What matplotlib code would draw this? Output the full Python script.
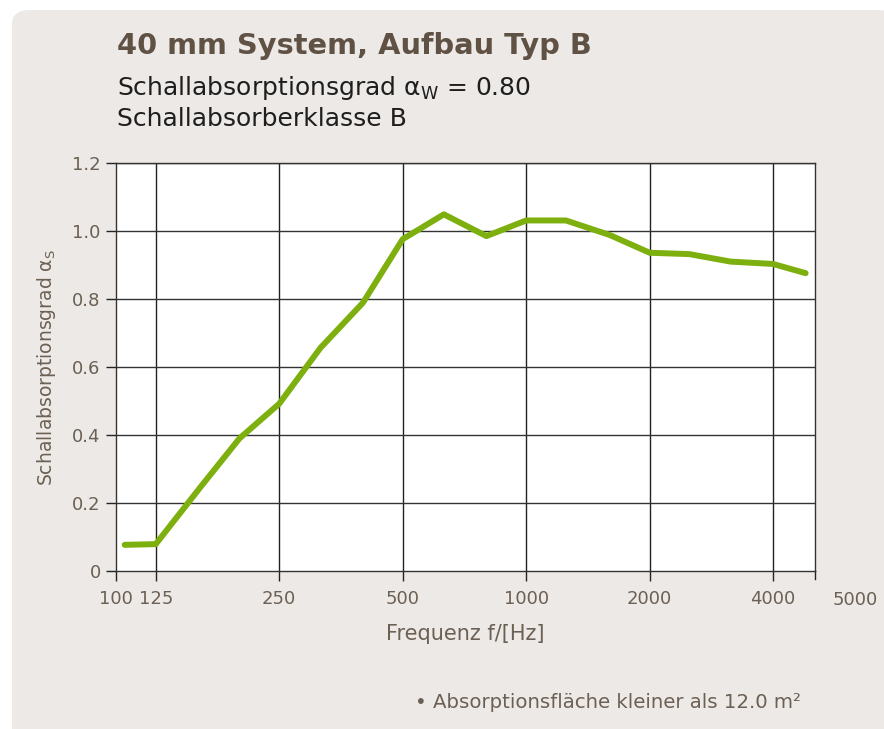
import numpy as np
import matplotlib
matplotlib.use('Agg')
from matplotlib import pyplot as plt
from matplotlib.patches import FancyBboxPatch

# Terzband-Frequenzen und Absorptionsgrad
freq = [105, 125, 160, 200, 250, 315, 400, 500, 630, 800, 1000, 1250, 1600, 2000, 2500, 3150, 4000, 4800]
alpha = [0.077, 0.079, 0.244, 0.39, 0.492, 0.656, 0.789, 0.976, 1.049, 0.985, 1.031, 1.031, 0.988, 0.936, 0.932, 0.91, 0.903, 0.876]

xticks = [100, 125, 250, 500, 1000, 2000, 4000]
xgrid = [125, 250, 500, 1000, 2000, 4000]
yticks = [0, 0.2, 0.4, 0.6, 0.8, 1.0, 1.2]
ylabels = ['0', '0.2', '0.4', '0.6', '0.8', '1.0', '1.2']

bg = '#ede9e6'
txt = '#6b6053'
green = '#7db00e'

plt.rcParams['font.family'] = ['DejaVu Sans']

fig = plt.figure(figsize=(8.84, 7.29), dpi=100)
fig.patch.set_facecolor('white')
panel = FancyBboxPatch((12 / 884, -0.1), 1, 1.1 - 10 / 729, boxstyle='round,pad=0,rounding_size=0.02',
                       transform=fig.transFigure, facecolor=bg, edgecolor='none', zorder=-10)
fig.patches.append(panel)

ax = fig.add_axes([116 / 884, 1 - 571 / 729, (815 - 116) / 884, (571 - 163) / 729])
ax.set_facecolor('white')
ax.set_xscale('log')
ax.set_xlim(100, 5060)
ax.set_ylim(0, 1.2)

for f in xgrid:
    ax.axvline(f, color='#222222', lw=1.0, zorder=1)
for y in yticks[1:]:
    ax.axhline(y, color='#333333', lw=1.0, zorder=1)

ax.plot(freq, alpha, color=green, lw=4.3, solid_capstyle='round', solid_joinstyle='round', zorder=3)

ax.set_xticks(xticks)
ax.set_xticklabels([str(t) for t in xticks])
ax.xaxis.set_minor_locator(matplotlib.ticker.NullLocator())
ax.set_yticks(yticks)
ax.set_yticklabels(ylabels)
ax.tick_params(axis='both', direction='out', length=7, width=1.0, color='#222222',
               labelcolor=txt, labelsize=13)
ax.tick_params(axis='y', pad=4)
ax.tick_params(axis='x', pad=7)
for s in ['left', 'bottom', 'right', 'top']:
    ax.spines[s].set_color('#333333')
    ax.spines[s].set_linewidth(1.0)

# extra tick at right end
ax.plot([1, 1], [0, -0.02], transform=ax.transAxes, color='#222222', lw=1.0, clip_on=False)
fig.text(855 / 884, 1 - 600 / 729, '5000', color=txt, fontsize=13, ha='center', va='center')

ax.set_xlabel('Frequenz f/[Hz]', color=txt, fontsize=15, labelpad=11)
ax.set_ylabel('Schallabsorptionsgrad α$_\\mathregular{S}$', color=txt, fontsize=13.5, labelpad=10)

fig.text(117 / 884, 1 - 46 / 729, '40 mm System, Aufbau Typ B', color='#5f5244',
         fontsize=20.8, fontweight='bold', va='center', ha='left')
fig.text(117 / 884, 1 - 88 / 729, 'Schallabsorptionsgrad α$_\\mathregular{W}$ = 0.80', color='#1e1e1e',
         fontsize=18, va='center', ha='left')
fig.text(117 / 884, 1 - 119 / 729, 'Schallabsorberklasse B', color='#1e1e1e',
         fontsize=18, va='center', ha='left')
fig.text(415 / 884, 1 - 703 / 729, '• Absorptionsfläche kleiner als 12.0 m²', color=txt,
         fontsize=14.2, va='center', ha='left')

fig.savefig('out.png', dpi=100, facecolor=fig.get_facecolor())
